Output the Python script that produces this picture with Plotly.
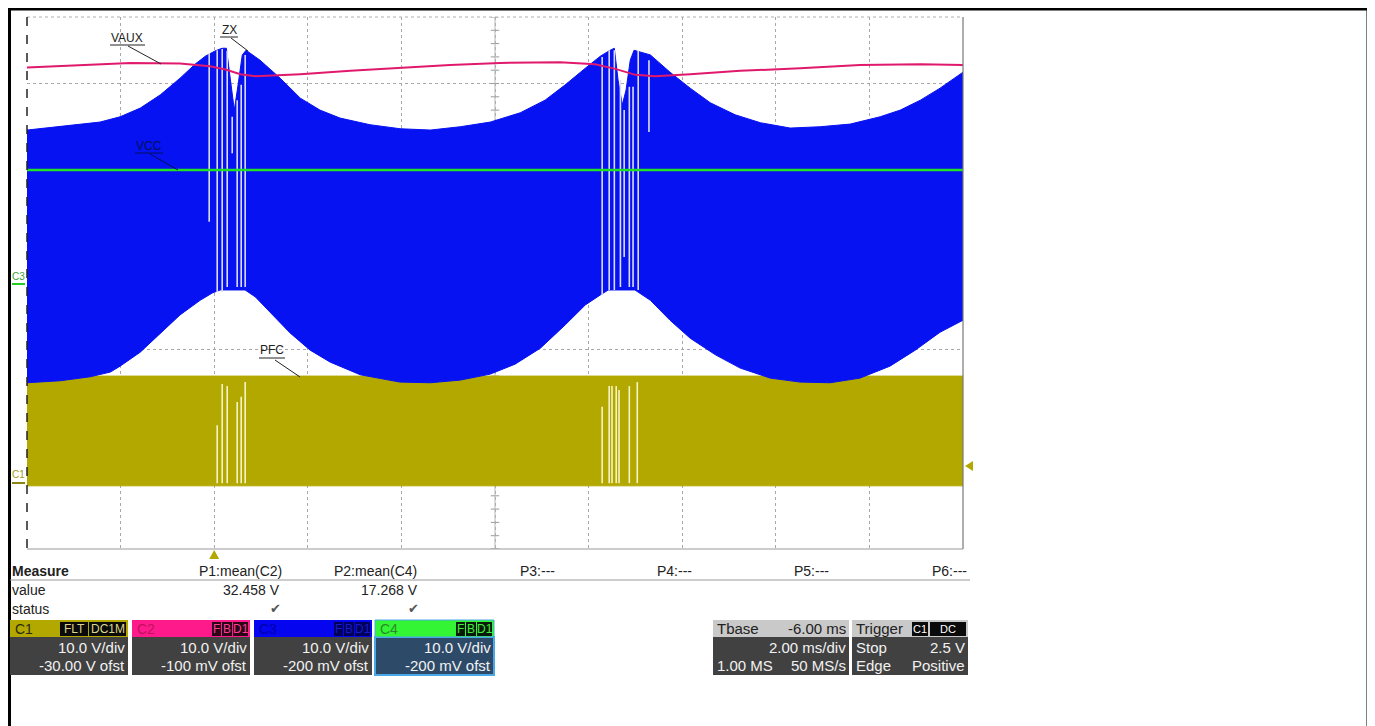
import plotly.graph_objects as go

# ---------------- data ----------------
T_START, T_END = -4.0, 16.0      # ms, 10 div x 2.00 ms/div, trigger at 0
V_MIN, V_MAX = -40.0, 40.0       # V, 8 div x 10.0 V/div
X_DTICK, Y_DTICK = 2.0, 10.0

# C3 "ZX" (blue) – upper envelope of the switching band
ZX_TOP_T = [-4.00, -3.29, -2.44, -2.01, -1.58, -1.15, -0.73, -0.41, -0.19, 0.02, 0.17,
            0.26, 0.34, 0.43, 0.51, 0.60, 0.68, 0.98, 1.41, 1.84, 2.26, 2.69, 3.33,
            3.97, 4.62, 5.26, 5.90, 6.54, 7.07, 7.50, 7.93, 8.25, 8.46,
            8.55, 8.63, 8.72, 8.80, 8.89, 8.97, 9.32, 9.74, 10.17, 10.60, 11.13,
            11.67, 12.31, 12.95, 13.59, 14.23, 14.66, 15.09, 15.51, 16.00]
ZX_TOP_V = [23.0, 23.5, 24.2, 25.0, 26.3, 28.3, 30.8, 32.9, 34.1, 34.9, 35.3,
            35.3, 30.5, 26.0, 29.8, 34.3, 35.0, 33.5, 30.8, 27.8, 26.0, 24.8, 23.8,
            23.2, 23.0, 23.5, 24.2, 25.6, 27.5, 29.8, 32.3, 34.1, 35.0,
            35.3, 30.5, 26.8, 29.0, 33.5, 35.0, 34.3, 31.7, 29.3, 27.1, 25.3,
            24.1, 23.3, 23.5, 23.9, 25.0, 26.0, 27.5, 29.3, 31.7]
# C3 "ZX" (blue) – lower envelope
ZX_BOT_T = [-4.00, -3.29, -2.65, -2.22, -2.01, -1.58, -1.15, -0.73, -0.30, -0.04, 0.13,
            0.66, 0.88, 1.20, 1.62, 2.05, 2.48, 3.12, 3.97, 4.62, 5.26, 5.90, 6.43,
            6.97, 7.50, 7.93, 8.25, 8.42, 8.99, 9.32, 9.74, 10.17, 10.71, 11.24,
            11.88, 12.52, 13.16, 13.80, 14.44, 14.98, 15.51, 16.00]
ZX_BOT_V = [-15.0, -14.7, -14.1, -13.4, -12.5, -10.4, -7.5, -4.8, -2.6, -1.5, -1.05,
            -1.05, -2.1, -4.4, -7.5, -10.1, -11.9, -13.8, -14.9, -15.0, -14.6, -13.7, -12.2,
            -9.8, -6.3, -3.3, -1.8, -1.05, -1.05, -2.6, -5.6, -8.3, -10.8, -12.8,
            -14.3, -14.9, -15.0, -14.3, -12.5, -10.1, -7.4, -5.6]
# C3 missing pulses (white gaps in the blue band)
ZX_GAP_T = [-0.107, 0.064, 0.171, 0.278, 0.385, 0.491, 0.577, 0.662,
            8.29, 8.44, 8.55, 8.68, 8.76, 8.87, 8.95, 9.06, 9.29]
ZX_GAP_TOP = [34.6, 35.0, 35.2, 34.9, 25.0, 27.5, 29.8, 34.3,
              34.0, 35.0, 35.0, 30.5, 26.0, 29.5, 29.5, 35.0, 33.5]
ZX_GAP_BOT = [9.2, -1.35, -1.35, -0.6, 19.5, -0.6, -0.6, -0.6,
              -1.8, -1.05, -1.05, -0.6, 3.9, -0.6, -0.6, -1.05, 22.7]

# C2 "VAUX" (pink)
VAUX_T = [-4.00, -2.86, -1.79, -0.73, -0.09, 0.24, 0.56, 0.88, 1.30, 1.84, 2.91,
          3.97, 5.04, 6.11, 7.39, 8.14, 8.57, 9.00, 9.42, 10.17, 11.24, 12.52,
          13.80, 15.09, 16.00]
VAUX_V = [32.4, 32.8, 33.1, 33.0, 32.6, 32.1, 31.4, 31.1, 31.2, 31.4, 31.9,
          32.4, 32.8, 33.1, 33.2, 32.9, 32.2, 31.3, 31.1, 31.4, 31.9, 32.3,
          32.8, 32.9, 32.8]

# C4 "VCC" (green)
VCC_T = [-4.0, 16.0]
VCC_V = [17.0, 17.0]

# C1 "PFC" gate drive (olive), shown with -30 V offset
PFC_OFFSET = -30.0
PFC_HIGH = 16.0
PFC_LOW = -0.5
PFC_GAP_T = [0.064, 0.171, 0.278, 0.491, 0.577, 0.662,
             8.29, 8.44, 8.50, 8.59, 8.65, 8.87, 9.04]
PFC_GAP_TOP = [8.6, 14.8, 14.5, 12.1, 12.9, 15.1,
               11.4, 14.5, 14.5, 14.5, 13.9, 14.5, 15.1]
PFC_GAP_BOT = -0.1
TRIG_LEVEL = 2.5  # V on C1

# measurement panel
MEAS_HEAD = ["P1:mean(C2)", "P2:mean(C4)", "P3:---", "P4:---", "P5:---", "P6:---"]
MEAS_VALUE = ["32.458 V", "17.268 V"]
CH_NAMES = ["C1", "C2", "C3", "C4"]
CH_SCALE = ["10.0 V/div", "10.0 V/div", "10.0 V/div", "10.0 V/div"]
CH_OFST = ["-30.00 V ofst", "-100 mV ofst", "-200 mV ofst", "-200 mV ofst"]

# ---------------- style ----------------
FONT = "Liberation Sans, Arial, sans-serif"
C_BLUE = "#0712f2"
C_OLIVE = "#b2a800"
C_PINK = "#e0196c"
C_GREEN = "#22e022"
C_GAP_BLUE = "#dcdcf2"
C_GAP_OLIVE = "#f6f4c6"

# page offset of the figure div (default body margin)
OFF = 8
# plot area in page pixels
PX0, PX1, PY0, PY1 = 27, 963, 17, 549
W, H = 1375 - OFF, 726 - OFF


def px(x):
    return (x - PX0) / (PX1 - PX0)


def py(y):
    return (PY1 - y) / (PY1 - PY0)


def gap_xy(ts, tops, bots):
    xs, ys = [], []
    for t, a, b in zip(ts, tops, bots):
        xs += [t, t, None]
        ys += [a, b, None]
    return xs, ys


fig = go.Figure()

# center ruler ticks
ctr_t = (T_START + T_END) / 2
ruler_v = [V_MIN + i * 2.0 for i in range(int((V_MAX - V_MIN) / 2.0) + 1)]
fig.add_trace(go.Scatter(x=[ctr_t] * len(ruler_v), y=ruler_v, mode="markers",
                         marker=dict(symbol="line-ew", size=6, line=dict(width=1, color="#9a9a9a")),
                         hoverinfo="skip", showlegend=False))
fig.add_trace(go.Scatter(x=[ctr_t, ctr_t], y=[V_MIN, V_MAX], mode="lines",
                         line=dict(color="#b5b5b5", width=1), hoverinfo="skip", showlegend=False))

# C1 PFC band
fig.add_trace(go.Scatter(x=[T_START, T_END], y=[PFC_LOW + PFC_OFFSET] * 2, mode="lines",
                         line=dict(color=C_OLIVE, width=1), showlegend=False, hoverinfo="skip"))
fig.add_trace(go.Scatter(x=[T_START, T_END], y=[PFC_HIGH + PFC_OFFSET] * 2, mode="lines",
                         line=dict(color=C_OLIVE, width=1), fill="tonexty", fillcolor=C_OLIVE,
                         showlegend=False, hoverinfo="skip"))
gx, gy = gap_xy(PFC_GAP_T, [v + PFC_OFFSET for v in PFC_GAP_TOP],
                [PFC_GAP_BOT + PFC_OFFSET] * len(PFC_GAP_T))
fig.add_trace(go.Scatter(x=gx, y=gy, mode="lines", line=dict(color=C_GAP_OLIVE, width=1.6),
                         showlegend=False, hoverinfo="skip"))

# C3 ZX band
fig.add_trace(go.Scatter(x=ZX_TOP_T + ZX_BOT_T[::-1], y=ZX_TOP_V + ZX_BOT_V[::-1],
                         mode="lines", fill="toself", fillcolor=C_BLUE,
                         line=dict(color=C_BLUE, width=1), showlegend=False, hoverinfo="skip"))
gx, gy = gap_xy(ZX_GAP_T, ZX_GAP_TOP, ZX_GAP_BOT)
fig.add_trace(go.Scatter(x=gx, y=gy, mode="lines", line=dict(color=C_GAP_BLUE, width=1.6),
                         showlegend=False, hoverinfo="skip"))

# C2 VAUX
fig.add_trace(go.Scatter(x=VAUX_T, y=VAUX_V, mode="lines", line=dict(color=C_PINK, width=2),
                         showlegend=False, hoverinfo="skip"))
# C4 VCC
fig.add_trace(go.Scatter(x=VCC_T, y=VCC_V, mode="lines", line=dict(color=C_GREEN, width=2.5),
                         showlegend=False, hoverinfo="skip"))

shapes = []
ann = []


def line_px(x0, y0, x1, y1, color="#000", width=1, dash="solid"):
    shapes.append(dict(type="line", xref="paper", yref="paper", x0=px(x0), y0=py(y0),
                       x1=px(x1), y1=py(y1), line=dict(color=color, width=width, dash=dash)))


def rect_px(x0, y0, x1, y1, fill, line_color=None, lw=0):
    shapes.append(dict(type="rect", xref="paper", yref="paper", x0=px(x0), y0=py(y0),
                       x1=px(x1), y1=py(y1), fillcolor=fill,
                       line=dict(color=line_color or fill, width=lw)))


def txt(x, y, s, anchor="left", size=15, color="#222", family=FONT):
    ann.append(dict(x=px(x), y=py(y), xref="paper", yref="paper", text=s, showarrow=False,
                    xanchor=anchor, yanchor="middle", borderpad=0,
                    font=dict(family=family, size=size, color=color)))


# outer frame
line_px(8, 9, 1369, 9, "#000", 3)
line_px(9.5, 8, 9.5, 740, "#000", 3)
line_px(1368, 8, 1368, 740, "#000", 3)

# graticule border
line_px(PX0, PY0, PX1, PY0, "#b0b0b0", 1, "dot")
line_px(PX0, PY0, PX0, PY1, "#222", 1.5, "dash")
line_px(PX1, PY0, PX1, PY1, "#777", 1.2)
line_px(PX0, PY1, PX1, PY1, "#999", 1.2)

# trace labels with leader lines
txt(127, 38, "VAUX", "center", 12, "#222")
line_px(110, 45, 145, 45, "#222", 1)
line_px(128, 46, 161, 64, "#222", 1)
txt(229, 30, "ZX", "center", 12, "#222")
line_px(220, 37, 238, 37, "#222", 1)
line_px(231, 38, 248, 51, "#222", 1)
txt(149, 146, "VCC", "center", 12, "#00105a")
line_px(135, 153, 163, 153, "#00105a", 1)
line_px(150, 154, 178, 170, "#00105a", 1)
txt(272, 350, "PFC", "center", 12, "#222")
line_px(259, 358, 285, 358, "#222", 1)
line_px(275, 360, 300, 377, "#222", 1)

# channel ground markers
txt(18, 276, "C3", "center", 10, "#3aa03a")
line_px(12, 284, 25, 284, "#22cc22", 2)
txt(18, 474, "C1", "center", 10, "#a09a20")
line_px(12, 483, 25, 483, "#8a8410", 2)

# trigger markers (time 0 at bottom, level on right)
trig_x = PX0 + (0 - T_START) / (T_END - T_START) * (PX1 - PX0)
trig_y = PY1 - ((TRIG_LEVEL + PFC_OFFSET) - V_MIN) / (V_MAX - V_MIN) * (PY1 - PY0)
shapes.append(dict(type="path", xref="paper", yref="paper",
                   path=f"M {px(trig_x)} {py(550)} L {px(trig_x - 5)} {py(559)} L {px(trig_x + 5)} {py(559)} Z",
                   fillcolor=C_OLIVE, line=dict(color=C_OLIVE, width=0)))
shapes.append(dict(type="path", xref="paper", yref="paper",
                   path=f"M {px(965)} {py(trig_y)} L {px(973)} {py(trig_y - 5)} L {px(973)} {py(trig_y + 5)} Z",
                   fillcolor=C_OLIVE, line=dict(color=C_OLIVE, width=0)))

# ---------------- measurement table ----------------
txt(11, 571, "<b>Measure</b>", "left", 14, "#222")
col_right = [283, 418, 556, 693, 830, 968]
for s, xr in zip(MEAS_HEAD, col_right):
    txt(xr, 571, s, "right", 14, "#222")
line_px(10, 580, 970, 580, "#9a9a9a", 1)
txt(11, 590, "value", "left", 14, "#222")
for s, xr in zip(MEAS_VALUE, [281, 419]):
    txt(xr, 590, s, "right", 14, "#222")
txt(11, 609, "status", "left", 14, "#222")
for xr in [275, 413]:
    txt(xr, 608, "✔", "center", 13, "#555", "DejaVu Sans")

# ---------------- channel boxes ----------------
box_x = [(10, 128), (132, 250), (254, 372), (375, 494)]
head_col = [C_OLIVE, "#ff1a8c", "#0505f0", "#33f533"]
name_col = ["#2a2a10", "#c2105e", "#0000a8", "#2a8a2a"]
body_col = ["#414141", "#414141", "#414141", "#2d4b69"]
badge_fill = ["#0a0a0a", "#2a0616", "#00005a", "#0a1a0a"]
badge_txt = ["#ddd48a", "#ff3c96", "#1a1acc", "#3cf03c"]
badges = [[("FLT", 28), ("DC1M", 37)], [("F", 9), ("B", 10), ("D1", 15)],
          [("F", 9), ("B", 10), ("D1", 15)], [("F", 9), ("B", 10), ("D1", 15)]]
for i, (x0, x1) in enumerate(box_x):
    rect_px(x0, 620, x1, 637, head_col[i])
    if i == 3:
        rect_px(x0, 637, x1, 675, body_col[i], "#4aa8e8", 2)
        rect_px(x0, 620, x1, 637, head_col[i], "#4aa8e8", 1)
    else:
        rect_px(x0, 637, x1, 675, body_col[i])
    txt(x0 + 4, 628.5, CH_NAMES[i], "left", 14, name_col[i])
    bx = x1 - 2
    for label, wdt in reversed(badges[i]):
        rect_px(bx - wdt, 622, bx, 636, badge_fill[i])
        txt(bx - wdt / 2, 629, label, "center", 12, badge_txt[i])
        bx -= wdt + 1
    txt(x1 - 2, 647, CH_SCALE[i], "right", 15, "#f2f2f2")
    txt(x1 - 2, 665, CH_OFST[i], "right", 15, "#f2f2f2")

# timebase box
rect_px(713, 620, 849, 637, "#c9c9c9")
rect_px(713, 637, 849, 675, "#414141")
txt(716, 628.5, "Tbase", "left", 15, "#222")
txt(847, 628.5, "-6.00 ms", "right", 15, "#222")
txt(847, 647, "2.00 ms/div", "right", 15, "#f2f2f2")
txt(716, 665, "1.00 MS", "left", 15, "#f2f2f2")
txt(847, 665, "50 MS/s", "right", 15, "#f2f2f2")

# trigger box
rect_px(852, 620, 968, 637, "#c9c9c9")
rect_px(852, 637, 968, 675, "#414141")
txt(855, 628.5, "Trigger", "left", 15, "#222")
rect_px(912, 622, 928, 636, "#0a0a0a")
txt(920, 629, "C1", "center", 11, "#ffffff")
rect_px(930, 622, 966, 636, "#0a0a0a")
txt(948, 629, "DC", "center", 11, "#ffffff")
txt(855, 647, "Stop", "left", 15, "#f2f2f2")
txt(966, 647, "2.5 V", "right", 15, "#f2f2f2")
txt(855, 665, "Edge", "left", 15, "#f2f2f2")
txt(966, 665, "Positive", "right", 15, "#f2f2f2")

fig.update_layout(
    width=W, height=H,
    margin=dict(l=PX0 - OFF, r=W - (PX1 - OFF), t=PY0 - OFF, b=H - (PY1 - OFF), pad=0),
    paper_bgcolor="white", plot_bgcolor="white",
    showlegend=False,
    shapes=shapes, annotations=ann,
    xaxis=dict(range=[T_START, T_END], dtick=X_DTICK, tick0=T_START, showticklabels=False,
               ticks="", showgrid=True, gridcolor="#a8a8a8", griddash="dot", gridwidth=1,
               zeroline=False, showline=False, fixedrange=True),
    yaxis=dict(range=[V_MIN, V_MAX], dtick=Y_DTICK, tick0=V_MIN, showticklabels=False,
               ticks="", showgrid=True, gridcolor="#a8a8a8", griddash="dot", gridwidth=1,
               zeroline=False, showline=False, fixedrange=True),
)

fig.write_html("out.html", config={"displayModeBar": False})
